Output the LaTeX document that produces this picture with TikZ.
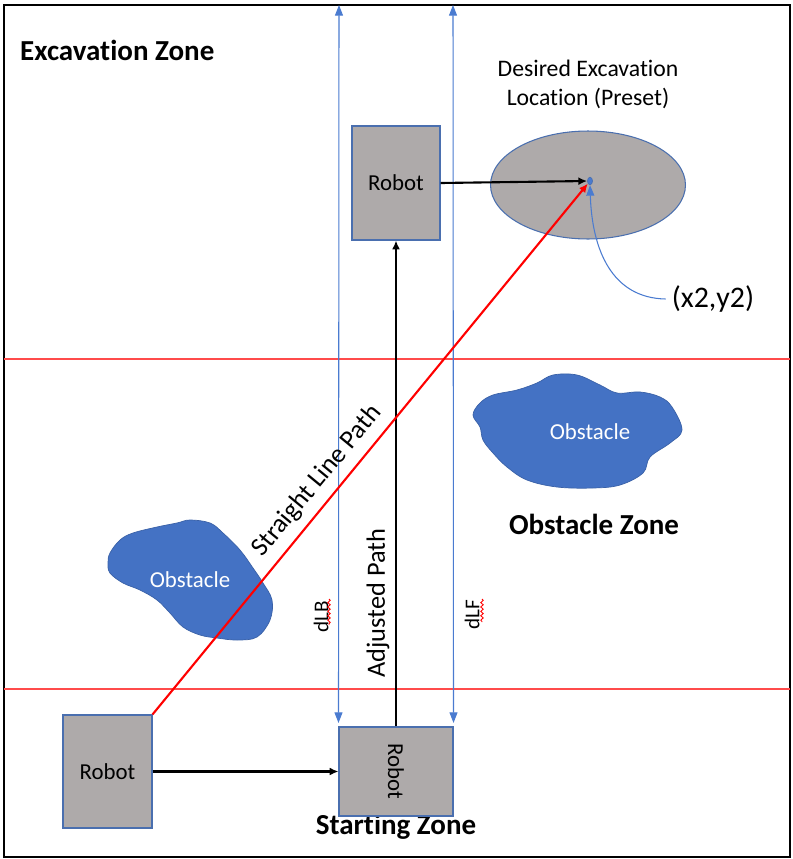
\documentclass[tikz,border=0pt]{standalone}
\usepackage{fontspec}
\setmainfont{Carlito}[Ligatures=NoCommon]
\usetikzlibrary{shapes.geometric,decorations.pathmorphing,arrows.meta}
\definecolor{robotgray}{HTML}{AEAAAA}
\definecolor{boxedge}{HTML}{4A6FAF}
\definecolor{blobblue}{HTML}{4472C4}
\definecolor{dimblue}{HTML}{4A7BD0}
\definecolor{zonered}{HTML}{FF4B4B}
\begin{document}
\begin{tikzpicture}[x=0.02cm,y=-0.02cm,>={Latex[length=5pt,width=4.5pt]},
  robot/.style={draw=boxedge,fill=robotgray,line width=0.6pt,inner sep=0pt,
    font=\fontsize{13}{15}\selectfont},
  zonelabel/.style={font=\bfseries\fontsize{16.5}{19}\selectfont},
  blob/.style={fill=blobblue,draw=blobblue!85!black,line width=0.4pt},
  blobtext/.style={text=white,font=\fontsize{13}{15}\selectfont},
  dimline/.style={color=dimblue,line width=0.6pt,
    >={Triangle[length=6pt,width=4.5pt]}},
  squiggle/.style={color=red,line width=0.5pt,decorate,
    decoration={snake,amplitude=0.7pt,segment length=2.5pt}}]
\useasboundingbox (0,0) rectangle (793,859);
\coordinate (lbTop) at (339,5);
\coordinate (lfTop) at (453,5);
% zones
\draw[line width=1.5pt] (4,5) rectangle (790,857);
\draw[color=zonered,line width=0.6pt] (4,359)--(790,359);
\draw[color=zonered,line width=0.6pt] (4,689)--(790,689);
\node[zonelabel,anchor=west] (excZone) at (14,50) {Excavation Zone};
\node[zonelabel] (obsZone) at (594,524) {Obstacle Zone};
\node[zonelabel] (startZone) at (396,827) {Starting Zone};
% obstacles
\filldraw[blob] plot[smooth cycle,tension=0.6] coordinates {(110,553) (120,540) (133,533)
  (157,527) (177,523) (190,520) (210,523) (223,533) (240,550) (253,568) (263,583)
  (272,600) (270,620) (257,637) (237,640) (217,638) (200,635) (183,627) (170,613)
  (157,600) (140,590) (123,583) (110,573) (108,563)};
\node[blobtext] (obsLeft) at (190,580) {Obstacle};
\filldraw[blob] plot[smooth cycle,tension=0.6] coordinates {(473,415) (480,403) (493,395)
  (517,390) (537,383) (553,375) (577,375) (600,385) (617,393) (640,392) (660,397)
  (672,407) (682,430) (670,443) (650,457) (643,473) (620,485) (593,488) (557,487)
  (527,480) (507,467) (493,453) (483,440) (480,427)};
\node[blobtext] (obsRight) at (590,432) {Obstacle};
% excavation site
\node[ellipse,draw=boxedge,fill=robotgray,line width=0.6pt,minimum width=3.9cm,
  minimum height=2.16cm,inner sep=0pt] (site) at (588,185) {};
\node[ellipse,draw=boxedge,fill=dimblue,minimum width=0.1cm,minimum height=0.15cm,
  inner sep=0pt] (goal) at (590,181) {};
\node[align=center,font=\fontsize{13.5}{16.5}\selectfont] (siteText) at (588,84)
  {Desired Excavation\\Location (Preset)};
\node[font=\fontsize{17}{20}\selectfont] (goalText) at (713,299) {(x2,y2)};
% robots
\node[robot,minimum width=1.76cm,minimum height=2.28cm] (robTop) at (396,183) {Robot};
\node[robot,minimum width=2.28cm,minimum height=1.78cm] (robBot) at (396,771.5)
  {\rotatebox{-90}{Robot}};
\node[robot,minimum width=1.78cm,minimum height=2.26cm] (robLeft) at (107.5,771.5) {Robot};
% paths
\draw[dimline,<->,shorten >=2pt] (lbTop)--(robBot.north west);
\draw[dimline,<->,shorten >=2pt] (lfTop)--(robBot.north east);
\draw[->,line width=1.2pt] (robLeft.east)--(robBot.west);
\draw[->,line width=1.2pt] (robBot.north)--(robTop.south);
\draw[->,line width=1.2pt] (robTop.east)--(goal.west);
\draw[->,color=red,line width=1.2pt] (robLeft.north east)--(goal);
\draw[dimline,->] (goalText.west) .. controls (612,298) and (592,250) .. (goal.south);
\node[rotate=90,font=\fontsize{15}{18}\selectfont] (adjText) at (378,603) {Adjusted Path};
\node[rotate=50.5,font=\fontsize{15}{18}\selectfont] (slpText) at (317,481) {Straight Line Path};
\node[rotate=90,font=\fontsize{12}{14}\selectfont] (dlbText) at (321,617) {dLB};
\node[rotate=90,font=\fontsize{12}{14}\selectfont] (dlfText) at (472,615) {dLF};
\draw[squiggle] (329,599)--(329,625);
\draw[squiggle] (482,599)--(482,622);
\end{tikzpicture}
\end{document}
